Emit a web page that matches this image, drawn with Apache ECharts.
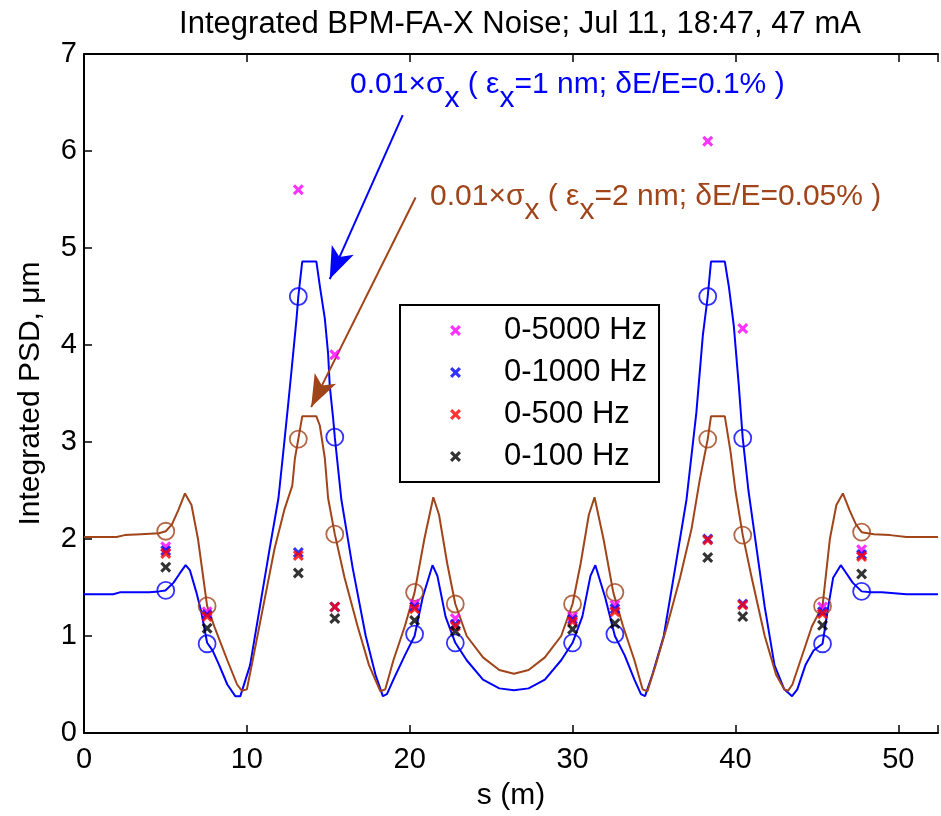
<!DOCTYPE html>
<html>
<head>
<meta charset="utf-8">
<script src="https://cdn.jsdelivr.net/npm/echarts@6/dist/echarts.min.js"></script>
<style>
html, body { margin: 0; padding: 0; background: #fff; }
#app { width: 941px; height: 816px; }
</style>
</head>
<body>
<div id="app"></div>
<script>
// BPM positions along the ring section (m)
const bpmS = [5.02, 7.56, 13.16, 15.4, 20.3, 22.8, 30.0, 32.6, 38.3, 40.45, 45.35, 47.75];

// integrated PSD at each BPM, um
const psd5000 = [1.92, 1.25, 5.6, 3.9, 1.33, 1.18, 1.2, 1.32, 6.1, 4.17, 1.3, 1.89];
const psd1000 = [1.88, 1.22, 1.86, 1.3, 1.3, 1.12, 1.17, 1.28, 2.0, 1.33, 1.25, 1.84];
const psd500 = [1.85, 1.2, 1.83, 1.3, 1.28, 1.1, 1.15, 1.25, 1.99, 1.32, 1.23, 1.82];
const psd100 = [1.71, 1.08, 1.65, 1.18, 1.16, 1.05, 1.07, 1.13, 1.81, 1.2, 1.11, 1.64];

// 0.01*sigma_x sampled at the BPMs
const sig1Bpm = [1.47, 0.92, 4.5, 3.05, 1.02, 0.93, 0.93, 1.02, 4.5, 3.04, 0.92, 1.46];
const sig2Bpm = [2.08, 1.31, 3.03, 2.05, 1.45, 1.33, 1.33, 1.45, 3.03, 2.04, 1.31, 2.07];

// 0.01*sigma_x along s, eps=1nm (blue)
const sig1S = [0, 1.8, 2.2, 4.0, 4.6, 5.0, 5.5, 5.9, 6.24, 6.5, 6.9, 7.2, 7.56, 7.9, 8.3, 8.8, 9.29, 9.6,
  10.2, 10.8, 11.4, 11.94, 12.24, 12.55, 12.75, 13.05, 13.16, 13.4, 14.27, 14.48, 14.79, 14.99, 15.09, 15.3, 15.4, 15.8,
  16.5, 17.3, 17.9, 18.35, 18.6, 19.0, 19.7, 20.3, 20.8, 21.4, 21.7, 22.2, 22.8, 23.5, 24.5, 25.5, 26.4,
  27.3, 28.3, 29.3, 30.0, 30.6, 31.1, 31.4, 32.0, 32.6, 33.2, 33.8, 34.2, 34.45,
  34.9, 35.6, 36.3, 37.0, 37.6, 38.0, 38.3, 38.5, 39.35, 39.6, 39.9, 40.2, 40.45, 40.8, 41.3, 41.8, 42.4, 43.0, 43.48,
  43.8, 44.3, 44.8, 45.35, 45.7, 46.0, 46.47, 46.8, 47.2, 47.75, 48.3, 49.0, 50.5, 52.44];
const sig1V = [1.43, 1.43, 1.45, 1.45, 1.46, 1.47, 1.55, 1.65, 1.73, 1.68, 1.45, 1.25, 0.93, 0.85, 0.7, 0.5, 0.38, 0.38,
  0.7, 1.3, 1.9, 2.42, 2.9, 3.41, 3.75, 4.27, 4.5, 4.86, 4.86, 4.61, 4.27, 3.91, 3.58, 3.24, 3.05, 2.41,
  1.7, 1.0, 0.6, 0.38, 0.4, 0.55, 0.8, 1.0, 1.4, 1.73, 1.62, 1.2, 0.93, 0.75, 0.55, 0.46, 0.44,
  0.46, 0.55, 0.75, 0.93, 1.2, 1.62, 1.73, 1.4, 1.0, 0.8, 0.55, 0.4, 0.38,
  0.6, 1.0, 1.7, 2.41, 3.3, 4.1, 4.5, 4.86, 4.86, 4.6, 4.2, 3.6, 3.04, 2.5, 1.9, 1.3, 0.7, 0.45, 0.38,
  0.45, 0.7, 0.85, 0.92, 1.3, 1.6, 1.73, 1.65, 1.55, 1.46, 1.45, 1.45, 1.43, 1.43];

// 0.01*sigma_x along s, eps=2nm (brown)
const sig2S = [0, 2.0, 2.5, 3.5, 4.6, 5.02, 5.4, 5.8, 6.2, 6.6, 7.0, 7.56, 8.0, 8.8, 9.4, 9.7, 10.0,
  10.3, 11.0, 11.7, 12.3, 12.79, 12.95, 13.16, 13.4, 14.27, 14.48, 14.79, 14.99, 15.4, 16.0, 16.8, 17.5, 18.2, 18.5,
  19.0, 19.7, 20.3, 20.9, 21.45, 21.8, 22.3, 22.8, 23.5, 24.5, 25.5, 26.4,
  27.3, 28.3, 29.3, 30.0, 30.5, 31.0, 31.35, 31.9, 32.5, 33.1, 33.8, 34.3, 34.6,
  35.1, 35.8, 36.6, 37.3, 37.8, 38.3, 38.5, 39.35, 39.7, 40.0, 40.45, 41.0, 41.8, 42.5, 43.0, 43.23, 43.5,
  44.0, 44.7, 45.35, 45.8, 46.2, 46.6, 47.0, 47.4, 47.75, 48.5, 49.5, 50.5, 52.44];
const sig2V = [2.02, 2.02, 2.04, 2.05, 2.06, 2.08, 2.15, 2.3, 2.47, 2.35, 2.0, 1.31, 1.1, 0.75, 0.5, 0.435, 0.45,
  0.7, 1.3, 1.9, 2.3, 2.55, 2.83, 3.03, 3.265, 3.265, 3.17, 2.83, 2.42, 2.05, 1.6, 1.1, 0.7, 0.43, 0.45,
  0.75, 1.1, 1.45, 2.0, 2.43, 2.25, 1.75, 1.33, 1.0, 0.78, 0.65, 0.61,
  0.65, 0.78, 1.0, 1.33, 1.75, 2.25, 2.43, 2.0, 1.45, 1.1, 0.75, 0.45, 0.43,
  0.7, 1.1, 1.6, 2.1, 2.6, 3.03, 3.265, 3.265, 2.9, 2.5, 2.04, 1.6, 1.0, 0.6, 0.45, 0.435, 0.5,
  0.75, 1.1, 1.31, 2.0, 2.35, 2.47, 2.3, 2.15, 2.07, 2.05, 2.04, 2.02, 2.02];

const xTicks = [0, 10, 20, 30, 40, 50];
const yTicks = [0, 1, 2, 3, 4, 5, 6, 7];

const FONT = 'Liberation Sans, Arial, sans-serif';
const BLUE = '#0000ff';
const BROWN = '#a0441a';
const XMARK = 'path://M0,2 L2,0 L5,3 L8,0 L10,2 L7,5 L10,8 L8,10 L5,7 L2,10 L0,8 L3,5 Z';

const zip = (a, b) => a.map((v, i) => [v, b[i]]);

const chart = echarts.init(document.getElementById('app'));

function xSeries(name, vals, color) {
  return {
    name: name, type: 'scatter', data: zip(bpmS, vals),
    symbol: XMARK, symbolSize: 11, itemStyle: { color: color }, z: 5
  };
}

function circles(vals, color) {
  return {
    type: 'scatter', data: zip(bpmS, vals), symbol: 'circle', symbolSize: 17,
    itemStyle: { color: 'rgba(0,0,0,0)', borderColor: color, borderWidth: 1.8 }, z: 4
  };
}

// rich text for the annotations (zrender style => fill)
const subRich = (color) => ({
  n: { fontSize: 30, fontFamily: FONT, fill: color, lineHeight: 32, verticalAlign: 'top' },
  s: { fontSize: 30, fontFamily: FONT, fill: color, lineHeight: 32, verticalAlign: 'top', padding: [14, 0, 0, 0] }
});

const option = {
  animation: false,
  backgroundColor: '#fff',
  title: {
    text: 'Integrated BPM-FA-X Noise; Jul 11, 18:47, 47 mA',
    left: 515, top: 4, textAlign: 'center',
    textStyle: { fontFamily: FONT, fontSize: 31, fontWeight: 'normal', color: '#000' }
  },
  grid: { left: 84, top: 54, right: -2, bottom: 81 },
  legend: {
    orient: 'vertical', left: 400, top: 305,
    padding: [10, 12, 10, 50], itemGap: 11, itemWidth: 11, itemHeight: 11,
    borderColor: '#000', borderWidth: 2, backgroundColor: '#fff',
    data: ['0-5000 Hz', '0-1000 Hz', '0-500 Hz', '0-100 Hz'],
    formatter: '{t|{name}}',
    textStyle: { rich: { t: { fontFamily: FONT, fontSize: 31, color: '#000', lineHeight: 30, padding: [0, 0, 0, 38] } } }
  },
  xAxis: [{
    type: 'value', min: 0, max: 52.44, interval: 10, position: 'bottom',
    name: 's (m)', nameLocation: 'middle', nameGap: 48,
    nameTextStyle: { fontFamily: FONT, fontSize: 30, color: '#000' },
    axisLine: { lineStyle: { color: '#000', width: 2 } },
    axisTick: { inside: true, length: 8, lineStyle: { color: '#000', width: 1.5 } },
    axisLabel: { fontFamily: FONT, fontSize: 29, color: '#000', margin: 12,
      formatter: (v) => xTicks.includes(v) ? String(v) : '' },
    splitLine: { show: false }
  }, {
    type: 'value', min: 0, max: 52.44, interval: 10, position: 'top',
    axisLine: { lineStyle: { color: '#000', width: 2 } },
    axisTick: { inside: true, length: 8, lineStyle: { color: '#000', width: 1.5 } },
    axisLabel: { show: false }, splitLine: { show: false }
  }],
  yAxis: {
    type: 'value', min: 0, max: 7, interval: 1,
    name: 'Integrated PSD, \u03bcm', nameLocation: 'middle', nameGap: 38, nameRotate: 90,
    nameTextStyle: { fontFamily: FONT, fontSize: 30, color: '#000' },
    axisLine: { lineStyle: { color: '#000', width: 2 } },
    axisTick: { inside: true, length: 8, lineStyle: { color: '#000', width: 1.5 } },
    axisLabel: { fontFamily: FONT, fontSize: 29, color: '#000', margin: 7,
      formatter: (v) => yTicks.includes(v) ? String(v) : '' },
    splitLine: { show: false }
  },
  series: [
    {
      type: 'line', data: zip(sig1S, sig1V), showSymbol: false, z: 3,
      lineStyle: { color: BLUE, width: 2 },
      markLine: {
        silent: true, symbol: ['none', 'arrow'], symbolSize: [18, 32], label: { show: false },
        lineStyle: { color: BLUE, width: 2, type: 'solid' },
        data: [[{ coord: [19.57, 6.37] }, { coord: [15.09, 4.68] }]]
      }
    },
    {
      type: 'line', data: zip(sig2S, sig2V), showSymbol: false, z: 3,
      lineStyle: { color: BROWN, width: 2 },
      markLine: {
        silent: true, symbol: ['none', 'arrow'], symbolSize: [18, 32], label: { show: false },
        lineStyle: { color: BROWN, width: 2, type: 'solid' },
        data: [[{ coord: [20.36, 5.52] }, { coord: [13.95, 3.36] }]]
      }
    },
    circles(sig1Bpm, BLUE),
    circles(sig2Bpm, BROWN),
    xSeries('0-5000 Hz', psd5000, '#ff00ff'),
    xSeries('0-1000 Hz', psd1000, '#0000ff'),
    xSeries('0-500 Hz', psd500, '#ff0000'),
    xSeries('0-100 Hz', psd100, '#000000')
  ],
  graphic: [
    {
      type: 'text', left: 350, top: 70, z: 10,
      style: {
        text: '{n|0.01\u00d7\u03c3}{s|x}{n| ( \u03b5}{s|x}{n|=1 nm; \u03b4E/E=0.1% )}',
        fill: BLUE, rich: subRich(BLUE)
      }
    },
    {
      type: 'text', left: 430, top: 182, z: 10,
      style: {
        text: '{n|0.01\u00d7\u03c3}{s|x}{n| ( \u03b5}{s|x}{n|=2 nm; \u03b4E/E=0.05% )}',
        fill: BROWN, rich: subRich(BROWN)
      }
    }
  ]
};

chart.setOption(option);
</script>
</body>
</html>
